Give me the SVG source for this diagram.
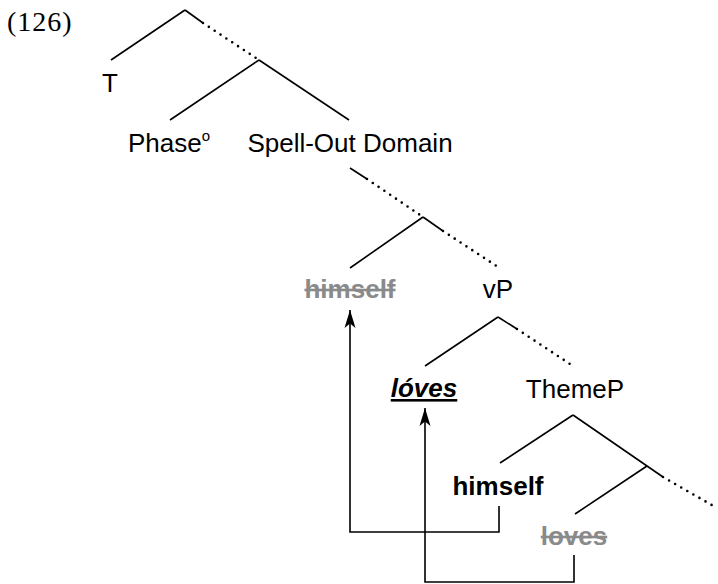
<svg xmlns="http://www.w3.org/2000/svg" width="718" height="584" viewBox="0 0 718 584">
<style>
.t{font-family:"Liberation Sans",Arial,sans-serif;font-size:26px;fill:#000}
.b{font-weight:bold}
.gray{fill:#8a8a8a;text-decoration:line-through}
.e{stroke:#000;stroke-width:1.6;fill:none}
.d{stroke:#000;stroke-width:2.6;fill:none;stroke-linecap:round;stroke-dasharray:0 7}
.arr{stroke:#000;stroke-width:1.6;fill:none;marker-end:url(#ah)}
</style>
<defs>
<marker id="ah" markerUnits="userSpaceOnUse" viewBox="0 -6 18 12" refX="18" refY="0" markerWidth="18" markerHeight="12" orient="auto">
<path d="M18,0 L0,-5.5 L4.5,0 L0,5.5 Z" fill="#000"/>
</marker>
</defs>
<rect width="718" height="584" fill="#fff"/>
<text x="7" y="31" style="font-family:'Liberation Serif','Times New Roman',serif;font-size:28px;letter-spacing:1px">(126)</text>
<g id="connectors">
<path class="e" d="M185,10 L111,60"/>
<path class="e" d="M185,10 L203,23"/>
<path class="d" d="M203,23 L259,60"/>
<path class="e" d="M259,60 L170,120"/>
<path class="e" d="M259,60 L349,120"/>
<path class="e" d="M350,168 L367,179"/>
<path class="d" d="M367,179 L423,217"/>
<path class="e" d="M423,217 L350,268"/>
<path class="e" d="M423,217 L443,231"/>
<path class="d" d="M443,231 L498,267"/>
<path class="e" d="M498,317 L425,366"/>
<path class="e" d="M498,317 L517,329"/>
<path class="d" d="M517,329 L573,366"/>
<path class="e" d="M573,415 L500,463"/>
<path class="e" d="M573,415 L663,477"/>
<path class="d" d="M663,477 L717,508"/>
<path class="e" d="M647,466 L575,514"/>
<path class="arr" d="M499,506 V532 H350 V310"/>
<path class="arr" d="M574,555 V582 H425 V408"/>
</g>
<g id="n-T"><text class="t" x="110" y="92" text-anchor="middle">T</text></g>
<g id="n-phase"><text class="t" x="128" y="152">Phase<tspan font-size="15" dy="-11">o</tspan></text></g>
<g id="n-spellout"><text class="t" x="350" y="152" text-anchor="middle">Spell-Out Domain</text></g>
<g id="n-himself-copy"><text class="t b gray" x="350" y="298" text-anchor="middle">himself</text></g>
<g id="n-vP"><text class="t" x="498" y="298" text-anchor="middle">vP</text></g>
<g id="n-loves"><text class="t b" x="424" y="397" text-anchor="middle" font-style="italic" text-decoration="underline">lóves</text></g>
<g id="n-ThemeP"><text class="t" x="575" y="398" text-anchor="middle">ThemeP</text></g>
<g id="n-himself"><text class="t b" x="498" y="495" text-anchor="middle">himself</text></g>
<g id="n-loves-copy"><text class="t b gray" x="574" y="545" text-anchor="middle">loves</text></g>
</svg>
